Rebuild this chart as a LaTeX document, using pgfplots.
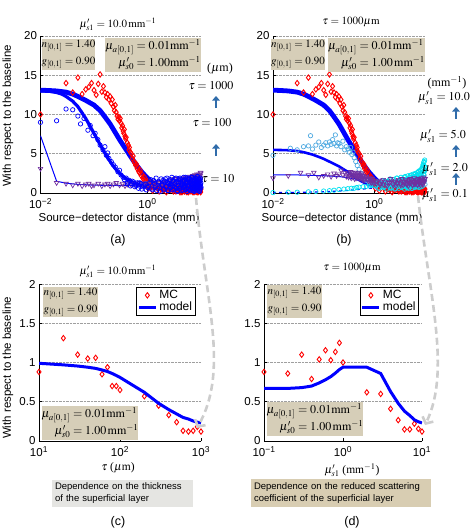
\documentclass[border=0pt]{standalone}
\usepackage{mathptmx}
\usepackage{fontspec}
\setmainfont{Liberation Serif}
\setsansfont{Liberation Sans}
\usepackage{pgfplots}
\usepackage{pgfplotstable}
\pgfplotsset{compat=1.18}
\usetikzlibrary{arrows.meta}
\definecolor{tanbox}{RGB}{214,206,184}
\definecolor{graybox}{RGB}{229,229,226}
\definecolor{tanbox2}{RGB}{216,205,178}
\definecolor{steel}{RGB}{48,108,170}
\definecolor{mcpurple}{RGB}{112,48,160}
\definecolor{ltblue}{RGB}{80,170,225}
\definecolor{cyanmc}{RGB}{0,225,240}
\definecolor{arrowgray}{RGB}{205,205,205}
\newcommand{\tk}{\fontsize{11.5}{12}\sffamily\selectfont}

% ---------------- data ----------------
\pgfplotstableread{
x y
0.01 10.0
0.03 14.0
0.04 12.8
0.05 14.7
0.06 12.6
0.07 13.2
0.08 13.5
0.09 14.0
0.10 13.1
0.11 12.5
0.12 13.9
0.13 15.1
0.14 12.9
0.15 13.6
0.16 12.8
0.17 12.2
0.18 12.6
0.19 11.9
0.20 12.3
0.21 11.4
0.22 11.9
0.23 11.0
0.24 10.5
0.25 11.2
0.26 10.3
0.27 9.8
0.28 9.4
0.29 9.7
0.30 9.2
0.31 9.5
0.32 8.9
0.33 8.3
0.34 8.6
0.35 7.9
0.36 7.6
0.37 8.1
0.38 7.2
0.39 6.9
0.40 7.1
0.42 6.4
0.44 6.1
0.45 5.5
0.46 5.8
0.48 5.2
0.50 5.0
0.52 4.4
0.54 4.7
0.56 4.0
0.58 3.8
0.60 3.5
0.62 3.7
0.64 3.1
0.66 3.3
0.68 2.8
0.70 2.6
0.73 2.9
0.76 2.2
0.79 2.4
0.82 1.9
0.85 1.7
0.88 2.0
0.92 1.5
0.96 1.3
1.00 1.5
1.05 1.1
1.10 1.3
1.15 0.9
1.20 1.1
1.3 0.8
1.4 1.0
1.5 0.7
1.6 0.6
1.7 0.9
1.8 0.5
1.9 0.8
2.0 0.4
2.2 0.7
2.4 0.3
2.6 0.6
2.8 0.9
3.0 0.4
3.2 0.7
3.4 0.2
3.6 0.5
3.8 0.8
4.0 0.3
4.2 0.6
4.4 0.1
4.6 0.5
4.8 0.8
5.0 0.2
5.2 0.6
5.4 0.4
5.6 0.9
5.8 0.1
6.0 0.5
6.2 0.7
6.4 0.3
6.6 0.6
6.8 0.2
7.0 0.8
7.2 0.4
7.4 0.1
7.6 0.6
7.8 0.3
8.0 0.9
8.2 0.2
8.4 0.5
8.6 0.7
8.8 0.1
9.0 0.4
9.2 0.8
9.4 0.3
9.6 0.6
9.8 0.2
10.0 0.5
}\redMC

\pgfplotstableread[row sep=\\]{
x y\\
1.05 0.6\\ 1.25 0.3\\ 1.45 0.9\\ 1.65 0.2\\ 1.85 0.7\\ 2.05 0.5\\ 2.25 0.1\\ 2.45 0.8\\ 2.65 0.4\\ 2.85 0.6\\
3.05 0.2\\ 3.25 0.9\\ 3.45 0.5\\ 3.65 0.3\\ 3.85 0.7\\ 4.05 0.1\\ 4.25 0.6\\ 4.45 0.4\\ 4.65 0.8\\ 4.85 0.2\\
5.05 0.5\\ 5.25 0.9\\ 5.45 0.1\\ 5.65 0.6\\ 5.85 0.3\\ 6.05 0.8\\ 6.25 0.2\\ 6.45 0.5\\ 6.65 0.4\\ 6.85 0.9\\
7.05 0.1\\ 7.25 0.6\\ 7.45 0.3\\ 7.65 0.7\\ 7.85 0.2\\ 8.05 0.5\\ 8.25 0.8\\ 8.45 0.1\\ 8.65 0.4\\ 8.85 0.6\\
9.05 0.2\\ 9.25 0.7\\ 9.45 0.3\\ 9.65 0.5\\ 9.85 0.1\\
}\redMCb

\pgfplotstableread{
x y
0.01 13.1
0.015 13.05
0.02 13.0
0.03 12.85
0.04 12.6
0.05 12.3
0.07 11.8
0.10 11.2
0.13 10.5
0.16 9.7
0.20 8.8
0.25 7.7
0.30 6.8
0.35 6.1
0.40 5.5
0.50 4.5
0.60 3.7
0.70 3.1
0.80 2.6
1.0 1.9
1.2 1.4
1.5 1.0
2.0 0.65
2.5 0.5
3.0 0.4
4.0 0.33
5.0 0.3
10 0.3
}\thickModel

\pgfplotstableread{
x y
0.01 13.0
0.015 12.95
0.02 12.8
0.025 12.6
0.03 12.3
0.04 11.7
0.05 11.0
0.06 10.2
0.07 9.5
0.08 8.8
0.10 7.6
0.12 6.6
0.15 5.4
0.18 4.5
0.22 3.6
0.28 2.7
0.35 2.1
0.43 1.7
0.55 1.3
0.70 1.0
1.0 0.75
1.5 0.55
2.0 0.45
4.0 0.4
10 0.4
}\tauHundredModel

\pgfplotstableread{
x y
0.01 7.3
0.02 1.5
0.03 1.25
0.05 1.1
0.1 1.0
0.3 0.95
1 0.9
3 0.9
10 1.0
}\tauTenModel

\pgfplotstableread{
x y
0.01 9.0
0.02 9.2
0.03 10.7
0.04 10.6
0.05 9.8
0.056 8.8
0.065 9.5
0.077 8.0
0.085 8.6
0.096 7.3
0.105 7.6
0.118 6.8
0.13 6.1
0.147 5.5
0.16 5.9
0.17 4.8
0.18 5.1
0.19 4.4
0.21 4.0
0.23 3.6
0.25 3.3
0.28 2.7
0.30 2.9
0.32 2.3
0.35 2.0
0.37 1.7
0.40 1.9
0.43 1.4
0.46 1.6
0.5 1.2
0.55 1.4
0.6 1.0
0.65 1.3
0.7 0.9
0.75 1.2
0.8 0.8
0.9 1.1
1.0 0.7
1.1 1.3
1.2 0.5
1.3 1.6
1.4 0.9
1.5 0.3
1.6 1.4
1.7 0.7
1.8 1.8
1.9 1.0
2.0 0.4
2.1 1.5
2.2 0.8
2.3 1.9
2.4 0.3
2.5 1.2
2.6 0.6
2.7 1.7
2.8 1.0
2.9 0.4
3.0 1.5
3.2 0.8
3.4 1.9
3.6 0.3
3.8 1.3
4.0 0.6
4.2 1.7
4.4 1.0
4.6 0.4
4.8 1.6
5.0 0.8
5.2 2.0
5.4 0.5
5.6 1.3
5.8 0.9
6.0 1.8
6.2 0.4
6.4 1.5
6.6 0.7
6.8 2.0
7.0 1.1
7.2 0.3
7.4 1.6
7.6 0.8
7.8 1.9
8.0 0.5
8.2 1.4
8.4 1.0
8.6 2.1
8.8 0.6
9.0 1.7
9.2 0.9
9.4 0.3
9.6 1.5
9.8 1.1
10 0.7
}\tauHundredMC

\pgfplotstableread[row sep=\\]{
x y\\
1.05 0.9\\ 1.15 1.7\\ 1.25 0.4\\ 1.35 1.2\\ 1.45 1.9\\ 1.55 0.6\\ 1.65 1.4\\ 1.75 0.2\\ 1.85 1.0\\ 1.95 1.6\\
2.05 0.5\\ 2.15 1.8\\ 2.25 0.8\\ 2.35 1.3\\ 2.45 0.3\\ 2.55 1.5\\ 2.65 1.1\\ 2.75 0.7\\ 2.85 2.0\\ 2.95 0.9\\
3.05 1.6\\ 3.15 0.4\\ 3.25 1.2\\ 3.35 1.8\\ 3.45 0.6\\ 3.55 1.4\\ 3.65 0.2\\ 3.75 1.0\\ 3.85 1.7\\ 3.95 0.5\\
4.05 1.9\\ 4.15 0.8\\ 4.25 1.3\\ 4.35 0.3\\ 4.45 1.5\\ 4.55 1.1\\ 4.65 0.7\\ 4.75 2.0\\ 4.85 0.9\\ 4.95 1.6\\
5.05 0.4\\ 5.15 1.2\\ 5.25 1.8\\ 5.35 0.6\\ 5.45 1.4\\ 5.55 0.2\\ 5.65 1.0\\ 5.75 1.7\\ 5.85 0.5\\ 5.95 1.9\\
6.05 0.8\\ 6.15 1.3\\ 6.25 0.3\\ 6.35 1.5\\ 6.45 1.1\\ 6.55 0.7\\ 6.65 2.0\\ 6.75 0.9\\ 6.85 1.6\\ 6.95 0.4\\
7.05 1.2\\ 7.15 1.8\\ 7.25 0.6\\ 7.35 1.4\\ 7.45 0.2\\ 7.55 1.0\\ 7.65 1.7\\ 7.75 0.5\\ 7.85 1.9\\ 7.95 0.8\\
8.05 1.3\\ 8.15 0.3\\ 8.25 1.5\\ 8.35 1.1\\ 8.45 0.7\\ 8.55 2.1\\ 8.65 0.9\\ 8.75 1.6\\ 8.85 0.4\\ 8.95 1.2\\
9.05 1.8\\ 9.15 0.6\\ 9.25 1.4\\ 9.35 0.2\\ 9.45 1.0\\ 9.55 1.7\\ 9.65 0.5\\ 9.75 1.9\\ 9.85 0.8\\ 9.95 1.3\\
0.42 1.2\\ 0.48 0.9\\ 0.52 1.5\\ 0.58 0.8\\ 0.62 1.1\\ 0.68 0.6\\ 0.72 1.3\\ 0.78 0.5\\ 0.85 0.9\\ 0.95 0.4\\
}\tauHundredMCb

\pgfplotstableread{
x y
0.01 3.1
0.02 1.3
0.03 1.2
0.04 1.0
0.05 1.2
0.06 0.9
0.07 1.1
0.08 1.2
0.09 0.9
0.1 1.0
0.12 1.2
0.14 0.9
0.16 1.1
0.18 1.2
0.2 0.9
0.23 1.1
0.26 1.3
0.3 1.0
0.34 1.2
0.38 0.9
0.42 1.1
0.46 1.3
0.5 1.0
0.55 1.2
0.6 0.9
0.65 1.1
0.7 1.3
0.75 1.0
0.8 1.2
0.85 0.9
0.9 1.1
0.95 1.3
1.0 1.0
1.1 1.2
1.3 0.9
1.5 1.4
1.7 1.0
1.9 1.3
2.1 0.9
2.3 1.5
2.5 1.1
2.7 1.4
2.9 1.0
3.1 1.6
3.3 1.2
3.5 0.9
3.7 1.5
3.9 1.1
4.1 1.7
4.3 1.3
4.5 1.0
4.7 1.6
4.9 1.2
5.1 1.8
5.3 1.4
5.5 1.0
5.7 1.7
5.9 1.3
6.1 1.9
6.3 1.1
6.5 1.6
6.7 2.0
6.9 1.2
7.1 1.7
7.3 1.4
7.5 2.1
7.7 1.0
7.9 1.8
8.1 1.3
8.3 2.2
8.5 1.5
8.7 1.1
8.9 1.9
9.1 2.3
9.3 1.4
9.5 2.0
9.7 1.6
9.9 2.5
}\tauTenMC

\pgfplotstableread[row sep=\\]{
x y\\
1.2 1.5\\ 1.4 1.1\\ 1.6 1.3\\ 1.8 1.6\\ 2.0 1.2\\ 2.2 1.4\\ 2.4 1.0\\ 2.6 1.7\\ 2.8 1.3\\ 3.0 1.2\\
3.2 1.8\\ 3.4 1.4\\ 3.6 1.1\\ 3.8 1.6\\ 4.0 1.3\\ 4.2 1.9\\ 4.4 1.5\\ 4.6 1.2\\ 4.8 1.8\\ 5.0 1.4\\
5.2 2.0\\ 5.4 1.6\\ 5.6 1.3\\ 5.8 1.9\\ 6.0 1.5\\ 6.2 2.1\\ 6.4 1.7\\ 6.6 1.3\\ 6.8 1.9\\ 7.0 2.2\\
7.2 1.5\\ 7.4 1.8\\ 7.6 2.3\\ 7.8 1.6\\ 8.0 2.0\\ 8.2 1.4\\ 8.4 2.4\\ 8.6 1.8\\ 8.8 2.1\\ 9.0 1.6\\
9.2 2.4\\ 9.4 1.9\\ 9.6 2.2\\ 9.8 2.6\\
}\tauTenMCb

\pgfplotstableread{
x y
0.01 4.8
0.022 5.7
0.03 5.5
0.04 5.9
0.05 6.0
0.055 7.3
0.06 5.6
0.07 6.1
0.08 6.5
0.09 5.8
0.10 6.1
0.11 6.4
0.12 6.0
0.13 6.5
0.14 6.2
0.15 6.8
0.16 6.3
0.17 7.4
0.18 6.0
0.19 6.4
0.20 6.3
0.22 5.9
0.24 6.6
0.26 5.5
0.28 5.9
0.30 5.6
0.32 5.2
0.34 5.8
0.36 4.9
0.38 5.2
0.40 4.5
0.43 4.0
0.46 3.5
0.50 3.0
0.55 2.5
0.60 2.1
0.65 1.8
0.70 1.6
0.80 1.3
0.90 1.1
1.0 1.0
1.2 0.6
1.4 1.2
1.6 0.8
1.8 1.4
2.0 0.7
2.3 1.1
2.6 0.6
3.0 1.3
3.5 0.8
4.0 1.2
4.5 0.7
5 1.1
5.5 0.6
6 1.0
7 0.8
8 1.2
9 0.9
10 1.1
}\fiveMC

\pgfplotstableread{
x y
0.01 1.9
0.02 2.2
0.035 2.6
0.05 2.3
0.064 2.6
0.08 2.0
0.1 2.2
0.12 2.4
0.14 2.1
0.16 2.5
0.18 2.2
0.2 2.4
0.22 2.9
0.24 2.3
0.26 2.6
0.28 2.1
0.3 2.5
0.32 2.2
0.34 2.7
0.36 2.3
0.38 2.0
0.4 2.4
0.43 2.1
0.46 2.5
0.5 2.2
0.53 1.9
0.56 2.3
0.6 2.0
0.65 1.8
0.7 2.1
0.75 1.7
0.8 1.9
0.85 1.5
0.9 1.8
0.95 1.4
1.0 1.6
1.1 1.2
1.2 1.6
1.3 1.0
1.4 1.4
1.5 1.1
1.6 1.5
1.8 0.9
2.0 1.3
2.2 1.6
2.4 1.0
2.6 1.4
2.8 1.2
3.0 1.7
3.3 1.0
3.6 1.4
3.9 1.2
4.2 1.6
4.5 1.1
4.8 1.5
5.1 1.3
5.4 1.7
5.7 1.0
6.0 1.4
6.4 1.2
6.8 1.6
7.2 1.1
7.6 1.5
8.0 1.3
8.4 1.7
8.8 1.2
9.2 1.6
9.6 1.4
10 1.8
}\twoMC

\pgfplotstableread[row sep=\\]{
x y\\
0.31 2.0\\ 0.33 2.4\\ 0.35 1.9\\ 0.37 2.6\\ 0.39 2.2\\ 0.41 1.8\\ 0.42 2.6\\ 0.44 2.3\\ 0.45 1.9\\ 0.47 2.1\\
0.49 2.6\\ 0.51 1.8\\ 0.52 2.4\\ 0.54 2.0\\ 0.57 2.5\\ 0.58 1.7\\ 0.61 2.2\\ 0.63 1.6\\ 0.67 2.0\\ 0.72 1.8\\
0.77 1.5\\ 0.82 1.7\\ 0.87 1.3\\ 0.93 1.6\\ 0.97 1.2\\
1.1 1.5\\ 1.3 1.2\\ 1.5 1.7\\ 1.7 1.0\\ 1.9 1.4\\ 2.1 1.8\\ 2.3 1.1\\ 2.5 1.5\\ 2.7 0.9\\ 2.9 1.3\\
3.1 1.6\\ 3.3 1.2\\ 3.5 1.8\\ 3.7 1.0\\ 3.9 1.4\\ 4.1 1.7\\ 4.3 1.1\\ 4.5 1.5\\ 4.7 0.9\\ 4.9 1.3\\
5.1 1.8\\ 5.3 1.2\\ 5.5 1.6\\ 5.7 1.0\\ 5.9 1.4\\ 6.1 1.9\\ 6.3 1.1\\ 6.5 1.5\\ 6.7 1.3\\ 6.9 1.7\\
7.1 1.0\\ 7.3 1.4\\ 7.5 1.8\\ 7.7 1.2\\ 7.9 1.6\\ 8.1 1.0\\ 8.3 1.5\\ 8.5 1.9\\ 8.7 1.3\\ 8.9 1.7\\
9.1 1.1\\ 9.3 1.6\\ 9.5 2.0\\ 9.7 1.4\\ 9.9 1.8\\
}\twoMCb

\pgfplotstableread{
x y
0.01 0.05
0.02 0.1
0.03 0.1
0.05 0.15
0.07 0.2
0.1 0.25
0.13 0.3
0.16 0.35
0.2 0.45
0.25 0.5
0.3 0.55
0.35 0.6
0.4 0.6
0.45 0.7
0.5 0.75
0.6 0.8
0.7 0.85
0.8 0.9
0.9 1.0
1.0 1.0
1.2 1.3
1.4 0.8
1.6 1.5
1.8 1.0
2.0 1.7
2.2 0.7
2.4 1.4
2.6 1.1
2.8 1.9
3.0 0.9
3.3 1.6
3.6 1.2
3.9 2.0
4.2 0.8
4.5 1.7
4.8 1.3
5.1 2.2
5.4 1.0
5.7 1.8
6.0 1.4
6.3 2.4
6.6 1.1
6.9 2.0
7.2 1.6
7.5 2.7
7.8 1.2
8.1 2.3
8.4 1.8
8.7 3.0
9.0 1.5
9.2 3.5
9.4 2.4
9.6 4.0
9.8 2.8
10 3.3
}\pointoneMC

\pgfplotstableread[row sep=\\]{
x y\\
1.05 0.9\\ 1.15 1.4\\ 1.25 0.6\\ 1.35 1.1\\ 1.45 1.6\\ 1.55 0.7\\ 1.65 1.2\\ 1.75 0.5\\ 1.85 1.5\\ 1.95 1.0\\
2.05 1.8\\ 2.15 0.6\\ 2.25 1.3\\ 2.35 0.9\\ 2.45 1.7\\ 2.55 0.5\\ 2.65 1.2\\ 2.75 1.9\\ 2.85 0.8\\ 2.95 1.4\\
3.05 0.6\\ 3.15 1.6\\ 3.25 1.1\\ 3.35 2.0\\ 3.45 0.7\\ 3.55 1.3\\ 3.65 1.8\\ 3.75 0.9\\ 3.85 1.5\\ 3.95 0.5\\
4.05 2.1\\ 4.15 1.0\\ 4.25 1.4\\ 4.35 0.7\\ 4.45 1.8\\ 4.55 1.2\\ 4.65 2.2\\ 4.75 0.6\\ 4.85 1.6\\ 4.95 1.0\\
5.05 2.0\\ 5.15 0.8\\ 5.25 1.5\\ 5.35 2.3\\ 5.45 1.1\\ 5.55 0.6\\ 5.65 1.8\\ 5.75 1.3\\ 5.85 2.4\\ 5.95 0.9\\
6.05 1.6\\ 6.15 2.1\\ 6.25 0.7\\ 6.35 1.4\\ 6.45 2.5\\ 6.55 1.0\\ 6.65 1.9\\ 6.75 0.8\\ 6.85 2.2\\ 6.95 1.3\\
7.05 2.6\\ 7.15 0.9\\ 7.25 1.7\\ 7.35 2.3\\ 7.45 1.1\\ 7.55 2.8\\ 7.65 0.7\\ 7.75 2.0\\ 7.85 1.5\\ 7.95 2.5\\
8.05 1.0\\ 8.15 2.9\\ 8.25 1.6\\ 8.35 2.2\\ 8.45 0.8\\ 8.55 3.1\\ 8.65 1.8\\ 8.75 2.6\\ 8.85 1.2\\ 8.95 3.3\\
9.05 2.0\\ 9.15 3.6\\ 9.25 1.4\\ 9.35 2.8\\ 9.45 3.9\\ 9.55 2.3\\ 9.65 3.4\\ 9.75 1.7\\ 9.85 4.2\\ 9.95 2.9\\
}\pointoneMCb

\pgfplotstableread{
x y
0.01 5.5
0.02 5.45
0.03 5.35
0.04 5.2
0.06 4.9
0.08 4.6
0.1 4.35
0.15 3.8
0.2 3.4
0.25 3.0
0.3 2.7
0.4 2.0
0.5 1.65
0.7 1.15
1.0 0.8
1.5 0.65
2 0.55
4 0.5
10 0.5
}\fiveModel

\pgfplotstableread{
x y
0.01 2.3
0.03 2.3
0.1 2.2
0.2 2.1
0.3 1.95
0.5 1.7
0.7 1.5
1 1.25
1.5 1.1
2 1.0
5 0.95
10 0.95
}\twoModel

\pgfplotstableread{
x y
0.01 0.05
0.03 0.08
0.1 0.15
0.2 0.25
0.4 0.4
0.7 0.55
1 0.65
2 0.75
5 0.8
10 0.8
}\pointoneModel

\pgfplotstableread{
x y
10 0.88
20 1.31
30 1.10
40 1.05
50 1.06
60 0.85
70 0.94
80 0.70
90 0.70
100 0.65
200 0.57
300 0.45
400 0.33
500 0.24
600 0.13
700 0.12
800 0.13
900 0.18
1000 0.12
}\cMC

\pgfplotstableread{
x y
10 0.99
20 0.97
30 0.955
40 0.94
50 0.925
60 0.905
70 0.885
80 0.86
90 0.835
100 0.81
200 0.62
300 0.48
400 0.40
500 0.345
600 0.30
700 0.28
800 0.255
900 0.24
1000 0.23
}\cModel

\pgfplotstableread{
x y
0.1 0.88
0.2 0.86
0.3 1.10
0.4 0.79
0.5 1.04
0.6 1.156
0.7 1.03
0.8 1.135
0.9 1.25
1.0 1.0
2 0.62
3 0.60
4 0.41
5 0.266
6 0.148
7 0.148
8 0.22
9 0.156
10 0.12
}\dMC

\pgfplotstableread{
x y
0.1 0.67
0.2 0.67
0.3 0.68
0.4 0.70
0.5 0.74
0.6 0.78
0.7 0.82
0.8 0.865
0.9 0.91
1.0 0.94
2 0.94
3 0.86
4 0.63
5 0.48
6 0.38
7 0.325
8 0.27
9 0.245
10 0.23
}\dModel

\pgfplotsset{
  every axis/.append style={scale only axis, axis x line*=bottom, axis y line*=left,
    axis line style={-, black, line width=0.6pt},
    ymajorgrids, grid style={densely dotted, gray!75, line width=0.6pt},
    tick align=inside, major tick length=3pt, tick style={black, line width=0.6pt},
    xminorticks=false, yminorticks=false,
    ticklabel style={font=\tk}, xticklabel style={yshift=-2pt}, clip mode=individual,
    legend style={font=\fontsize{12}{13}\sffamily\selectfont,
      draw=black, line width=0.5pt, inner sep=1pt, row sep=-2pt, fill=white},
    legend cell align=left},
}
\tikzset{
  mcred/.style={only marks, mark=diamond, mark size=2.7pt, mark options={red, line width=0.9pt, fill=none}},
  mcblue/.style={only marks, mark=o, mark size=2.2pt, mark options={blue, line width=0.7pt}},
  mctri/.style={only marks, mark=triangle, mark size=2.6pt, mark options={mcpurple, line width=0.7pt, rotate=180}},
  mclt/.style={only marks, mark=o, mark size=2.2pt, mark options={ltblue, line width=0.7pt}},
  mccy/.style={only marks, mark=o, mark size=2.2pt, mark options={cyanmc, line width=0.7pt}},
}

\begin{document}
\begin{tikzpicture}[x=1pt,y=1pt]
% ---------------- (a) ----------------
\begin{axis}[xmode=log, at={(40.5pt,-193pt)}, anchor=south west, width=160.5pt, height=157pt,
  ymin=0, ymax=20, xmin=0.01, xmax=10,
  xtick={0.01,1}, xticklabels={10\textsuperscript{−2},10\textsuperscript{0}},
  ytick={0,5,10,15,20}, yticklabels={0,5,10,15,20}]
\addplot[blue, line width=4.8pt] table {\thickModel};
\addplot[blue, line width=3.2pt] table {\tauHundredModel};
\addplot[blue, line width=1pt] table {\tauTenModel};
\addplot[mcred] table {\redMC};
\addplot[mcred] table {\redMCb};
\addplot[mctri] table {\tauTenMC};
\addplot[mctri] table {\tauTenMCb};
\addplot[mcblue] table {\tauHundredMC};
\addplot[mcblue] table {\tauHundredMCb};
\end{axis}
% ---------------- (b) ----------------
\begin{axis}[xmode=log, at={(273pt,-193pt)}, anchor=south west, width=152pt, height=157pt,
  ymin=0, ymax=20, xmin=0.01, xmax=10,
  xtick={0.01,1}, xticklabels={10\textsuperscript{−2},10\textsuperscript{0}},
  ytick={0,5,10,15,20}, yticklabels={0,5,10,15,20}]
\addplot[blue, line width=4.8pt] table {\thickModel};
\addplot[blue, line width=2.6pt] table {\fiveModel};
\addplot[blue, line width=1pt] table {\twoModel};
\addplot[blue, line width=1.2pt, dashed] table {\pointoneModel};
\addplot[mcred] table {\redMC};
\addplot[mcred] table {\redMCb};
\addplot[mclt] table {\fiveMC};
\addplot[mccy] table {\pointoneMC};
\addplot[mccy] table {\pointoneMCb};
\addplot[mctri] table {\twoMC};
\addplot[mctri] table {\twoMCb};
\end{axis}
% ---------------- (c) ----------------
\begin{axis}[xmode=log, at={(39pt,-441pt)}, anchor=south west, width=162pt, height=157pt,
  ymin=0, ymax=2, ytick={0,0.5,1,1.5,2}, yticklabels={0,0.5,1,1.5,2},
  xmin=10, xmax=1000, xtick={10,100,1000},
  xticklabels={10\textsuperscript{1},10\textsuperscript{2},10\textsuperscript{3}},
  legend style={at={(0.965,0.98)}, anchor=north east}]
\addplot[mcred] table {\cMC};
\addlegendentry{MC}
\addplot[blue, line width=3pt] table {\cModel};
\addlegendentry{model}
\end{axis}
% ---------------- (d) ----------------
\begin{axis}[xmode=log, at={(264pt,-441pt)}, anchor=south west, width=158pt, height=157pt,
  ymin=0, ymax=2, ytick={0,0.5,1,1.5,2}, yticklabels={0,0.5,1,1.5,2},
  xmin=0.1, xmax=10, xtick={0.1,1,10},
  xticklabels={10\textsuperscript{−1},10\textsuperscript{0},10\textsuperscript{1}},
  legend style={at={(0.98,0.98)}, anchor=north east}]
\addplot[mcred] table {\dMC};
\addlegendentry{MC}
\addplot[blue, line width=3pt] table {\dModel};
\addlegendentry{model}
\end{axis}

% ---------------- titles ----------------
\tikzset{ttl/.style={font=\fontsize{11}{12}\selectfont, inner sep=0pt}}
\node[ttl] at (118,-24) {$\mu'_{s1} = 10.0\,\mathrm{mm}^{-1}$};
\node[ttl] at (351,-22) {$\tau = 1000\mu\mathrm{m}$};
\node[ttl] at (118,-271) {$\mu'_{s1} = 10.0\,\mathrm{mm}^{-1}$};
\node[ttl] at (352,-268) {$\tau = 1000\mu\mathrm{m}$};

% ---------------- axis labels ----------------
\tikzset{sl/.style={font=\fontsize{11.5}{12}\sffamily\selectfont, inner sep=0pt}}
\node[sl, rotate=90] at (8,-116) {With respect to the baseline};
\node[sl, rotate=90] at (8,-368) {With respect to the baseline};
\node[sl] at (119,-219) {Source−detector distance (mm)};
\node[sl] at (342,-219) {Source−detector distance (mm)};
\node[ttl, font=\fontsize{11.5}{12}\selectfont] at (118,-468) {$\tau$ ($\mu$m)};
\node[ttl, font=\fontsize{11.5}{12}\selectfont] at (352,-470) {$\mu'_{s1}$ (mm$^{-1}$)};
\tikzset{pl/.style={font=\fontsize{12.5}{13}\sffamily\selectfont, inner sep=0pt}}
\node[pl] at (118,-240) {(a)};
\node[pl] at (344,-240) {(b)};
\node[pl] at (118,-522) {(c)};
\node[pl] at (352,-522) {(d)};

% ---------------- parameter boxes ----------------
\tikzset{
 b1/.style={fill=tanbox, inner sep=0pt, font=\fontsize{11}{17}\selectfont, align=left},
 b2/.style={fill=tanbox, inner sep=0pt, font=\fontsize{12}{17}\selectfont}}
\newcommand{\boxone}{$n_{[0,1]} = 1.40$\\$g_{[0,1]} = 0.90$}
\newcommand{\boxtwo}[1]{\begin{tabular}{@{}r@{}l@{}}$\mu_{a[0,1]}$&${}= 0.01\mathrm{mm}^{-1}$\\$\mu'_{s0}$&${}= 1.00#1\mathrm{mm}^{-1}$\end{tabular}}
\node[b1, minimum width=51pt, minimum height=31pt] at (68.5,-54.5) {\boxone};
\node[b2, minimum width=94pt, minimum height=31pt] at (153,-54.5) {\boxtwo{}};
\node[b1, minimum width=50pt, minimum height=31pt] at (298,-54.5) {\boxone};
\node[b2, minimum width=91pt, minimum height=31pt] at (376.5,-54.5) {\boxtwo{\,}};
\node[b1, minimum width=55pt, minimum height=30pt] at (70.5,-302) {\boxone};
\node[b2, minimum width=90pt, minimum height=31pt] at (90,-422.5) {\boxtwo{\,}};
\node[b1, minimum width=55pt, minimum height=33pt] at (294.5,-301.5) {\boxone};
\node[b2, minimum width=88pt, minimum height=33pt] at (315,-418.5) {\boxtwo{\,}};

% ---------------- right annotations ----------------
\tikzset{an/.style={font=\fontsize{12}{13}\selectfont, inner sep=0pt},
  upar/.style={steel, line width=2.6pt, -{Triangle[length=4.5pt,width=7.5pt]}}}
\node[an] at (220,-69) {($\mu$m)};
\node[an] at (211,-86) {$\tau = 1000$};
\node[an] at (212,-123) {$\tau = 100$};
\node[an] at (218,-179) {$\tau = 10$};
\draw[upar] (216,-108) -- (216,-96);
\draw[upar] (216,-156) -- (216,-144);
\node[an] at (447,-83) {(mm$^{-1}$)};
\node[an] at (444,-98) {$\mu'_{s1} = 10.0$};
\node[an] at (443,-136) {$\mu'_{s1} = 5.0$};
\node[an] at (445,-169) {$\mu'_{s1} = 2.0$};
\node[an] at (445,-195) {$\mu'_{s1} = 0.1$};
\draw[upar] (456,-119) -- (456,-107);
\draw[upar] (456,-157) -- (456,-145);
\draw[upar] (456,-185) -- (456,-173);

% ---------------- dashed gray arrows ----------------
\draw[arrowgray, line width=2.6pt, dash pattern=on 7pt off 4pt, -{Straight Barb[length=5pt,width=12pt]}]
  (196,-198) .. controls (205,-300) and (230,-370) .. (197,-428);
\draw[arrowgray, line width=2.6pt, dash pattern=on 7pt off 4pt, -{Straight Barb[length=5pt,width=12pt]}]
  (418,-196) .. controls (428,-290) and (452,-370) .. (425,-425);

% ---------------- bottom description boxes ----------------
\node[fill=graybox, minimum width=141pt, minimum height=27pt, inner sep=3pt, text width=135pt, align=left,
  font=\fontsize{9.5}{12}\sffamily\selectfont] at (122.5,-493.5) {Dependence on the thickness\\of the superficial layer};
\node[fill=tanbox2, minimum width=180pt, minimum height=28pt, inner sep=3pt, text width=174pt, align=left,
  font=\fontsize{9.5}{12}\sffamily\selectfont] at (341,-493) {Dependence on the reduced scattering\\coefficient of the superficial layer};

\pgfresetboundingbox
\useasboundingbox (0,0) rectangle (474,-530);
\end{tikzpicture}
\end{document}
